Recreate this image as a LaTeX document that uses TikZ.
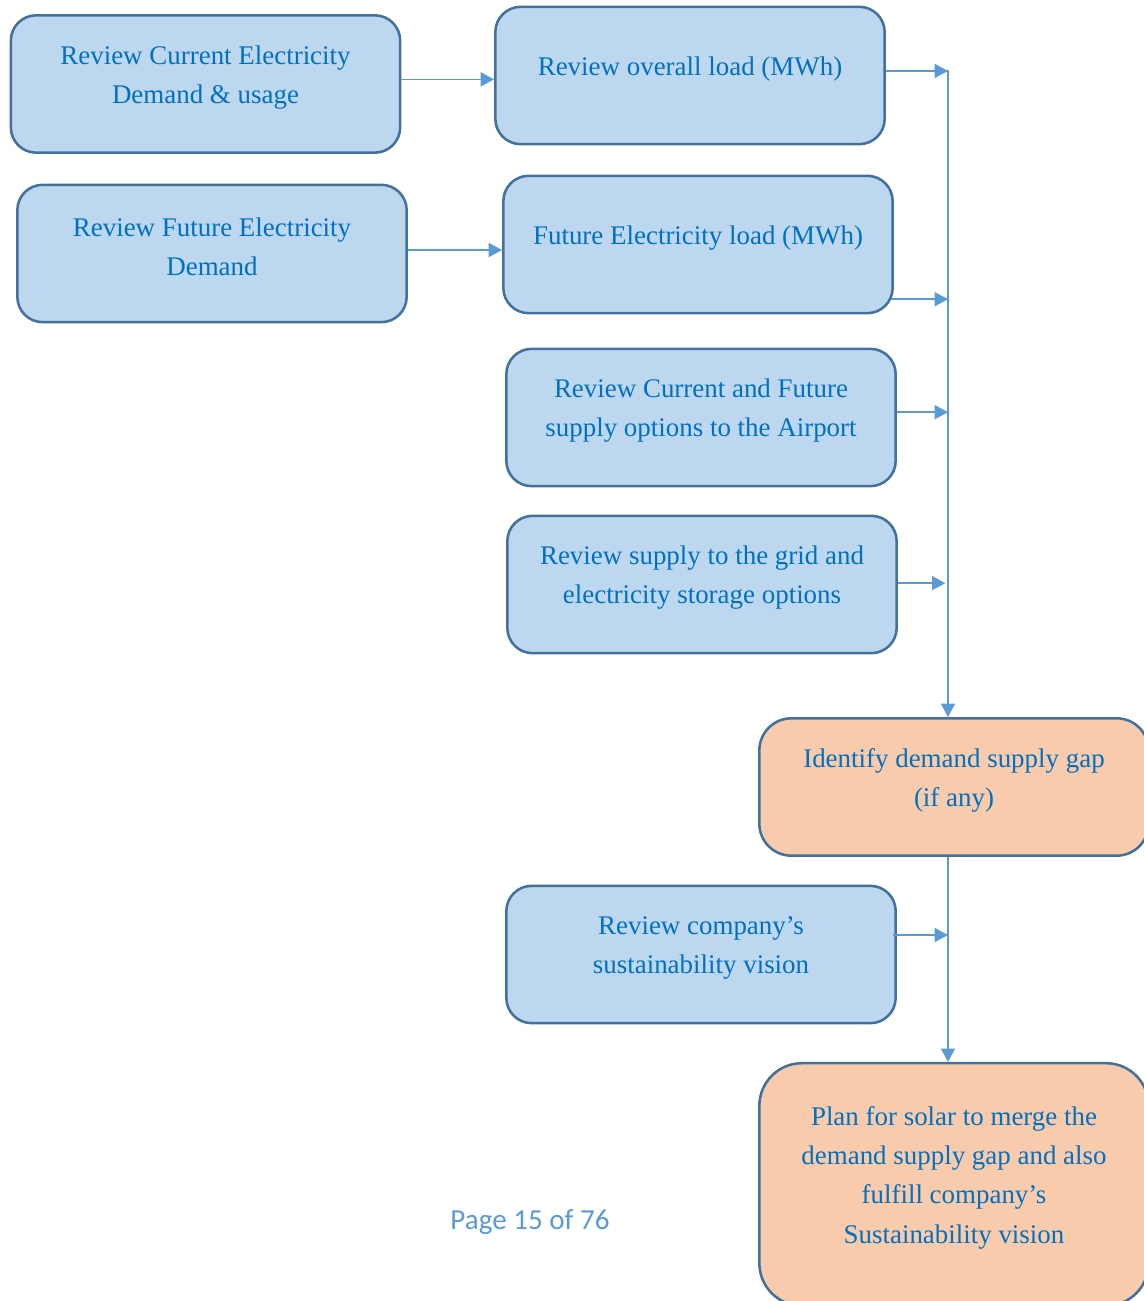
\documentclass[tikz,border=0pt]{standalone}
\usepackage{fontspec}
\setmainfont{Liberation Serif}
\newfontfamily\pagefont{Carlito}
\usetikzlibrary{positioning,arrows.meta}
\definecolor{flowfill}{HTML}{BDD7EE}
\definecolor{flowedge}{HTML}{41719C}
\definecolor{flowtext}{HTML}{0070C0}
\definecolor{flowgap}{HTML}{F8CBAD}
\definecolor{flowline}{HTML}{5B9BD5}

\begin{document}
\begin{tikzpicture}[
  x=0.75pt, y=-0.75pt,
  box/.style={draw=flowedge, line width=1.9pt, rounded corners=19pt, fill=flowfill, inner sep=0pt, minimum width=292pt, minimum height=103pt},
  gapbox/.style={box, fill=flowgap, rounded corners=24pt},
  txt/.style={text=flowtext, align=center, font=\fontsize{20.2}{29.3}\selectfont, inner sep=0pt},
  arr/.style={-{Triangle[length=10pt,width=10.5pt]}, line width=1.1pt, draw=flowline},
  pagetxt/.style={text=flowline, font=\pagefont\fontsize{21.8}{26}\selectfont}
]
\useasboundingbox (0,0) rectangle (1143,1301);

% left column
\node[box] (curdem) at (205.5,84) {};
\node[box] (futdem) at (212,253.5) {};
% middle column
\node[box] (load) at (690,75.5) {};
\node[box] (futload) at (698,244.5) {};
\node[box] (supply) at (701,417.5) {};
\node[box] (grid) at (702,584.5) {};
\node[box] (vision) at (701,954.5) {};
% right column
\node[gapbox] (gap) at (954,787) {};
\node[gapbox, minimum height=182pt, rounded corners=32pt] (plan) at (954,1184.5) {};

\node[txt] (curdemtxt) at ([yshift=5pt]curdem) {Review Current Electricity\\Demand \& usage};
\node[txt] (futdemtxt) at ([yshift=5pt]futdem) {Review Future Electricity\\Demand};
\node[txt] (loadtxt) at ([yshift=5pt]load) {Review overall load (MWh)};
\node[txt] (futloadtxt) at ([yshift=5pt]futload) {Future Electricity load (MWh)};
\node[txt] (supplytxt) at ([yshift=5pt]supply) {Review Current and Future\\supply options to the Airport};
\node[txt] (gridtxt) at ([yshift=5pt]grid) {Review supply to the grid and\\electricity storage options};
\node[txt] (visiontxt) at ([yshift=5pt]vision) {Review company’s\\sustainability vision};
\node[txt] (gaptxt) at ([yshift=5pt]gap) {Identify demand supply gap\\(if any)};
\node[txt] (plantxt) at ([yshift=5pt]plan) {Plan for solar to merge the\\demand supply gap and also\\fulfill company’s\\Sustainability vision};

\node[pagetxt] (page) at (530,1222) {Page 15 of 76};

% collector line
\coordinate (bus) at (948,70);
\draw[arr] (bus) -- (bus |- gap.north);
\draw[arr] (bus |- gap.south) -- (bus |- plan.north);

\draw[arr] ([yshift=3.5pt]curdem.east) -- ([yshift=3.5pt]curdem.east -| load.west);
\draw[arr] ([yshift=2.6pt]futdem.east) -- ([yshift=2.6pt]futdem.east -| futload.west);
\draw[arr] ([yshift=3.4pt]load.east) -- ([yshift=3.4pt]load.east -| bus);
\draw[arr] ([xshift=-2pt,yshift=-41pt]futload.east) -- ([yshift=-41pt]futload.east -| bus);
\draw[arr] ([yshift=4pt]supply.east) -- ([yshift=4pt]supply.east -| bus);
\draw[arr] ([yshift=1pt]grid.east) -- ([xshift=-2pt,yshift=1pt]grid.east -| bus);
\draw[arr] ([xshift=-3pt,yshift=14.6pt]vision.east) -- ([yshift=14.6pt]vision.east -| bus);
\end{tikzpicture}
\end{document}
